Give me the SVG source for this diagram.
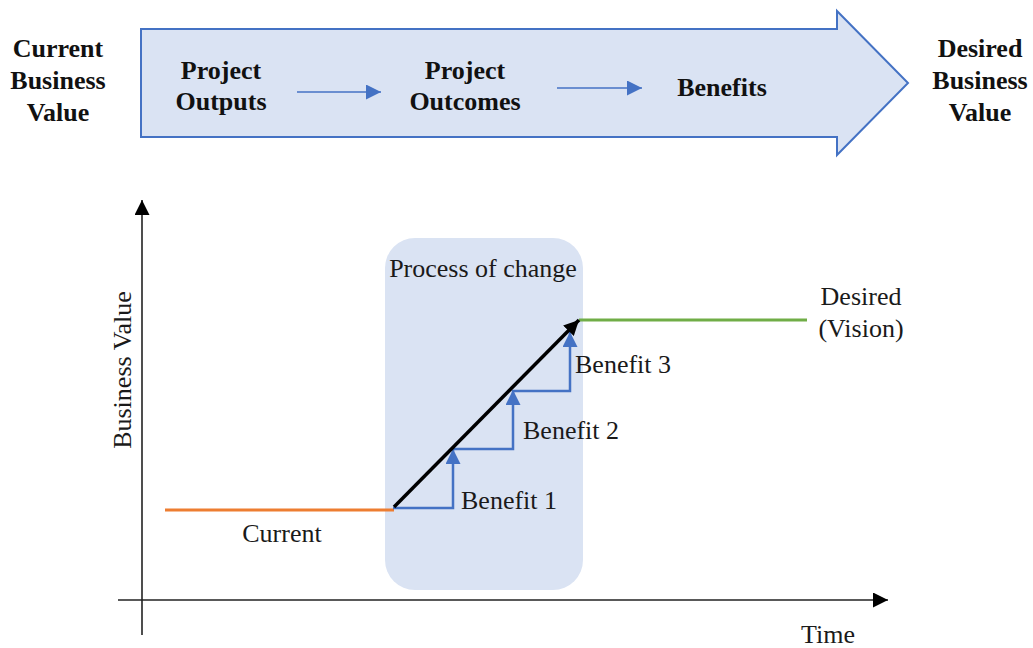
<svg xmlns="http://www.w3.org/2000/svg" width="1033" height="648" viewBox="0 0 1033 648">
  <style>
    .bold { font-family: "Liberation Serif", "Times New Roman", serif; font-weight: bold; font-size: 26px; fill: #111; text-anchor: middle; }
    .lbl { font-family: "Liberation Serif", "Times New Roman", serif; font-size: 26px; fill: #1a1a1a; }
    .mid { text-anchor: middle; }
    .flow { stroke: #4472C4; stroke-width: 1.6; fill: none; }
    .step { stroke: #4472C4; stroke-width: 2.5; fill: none; }
  </style>
  <defs>
    <marker id="blueHead" viewBox="0 0 10 10" refX="10" refY="5" markerWidth="15" markerHeight="15" markerUnits="userSpaceOnUse" orient="auto">
      <path d="M0,0 L10,5 L0,10 Z" fill="#4472C4"/>
    </marker>
    <marker id="axisHead" viewBox="0 0 10 10" refX="10" refY="5" markerWidth="15" markerHeight="15" markerUnits="userSpaceOnUse" orient="auto">
      <path d="M0,0 L10,5 L0,10 Z" fill="#000"/>
    </marker>
  </defs>

  <rect width="1033" height="648" fill="#fff"/>

  <!-- value chain banner -->
  <g id="banner">
    <path d="M141,29 H837 V11 L908,83 L837,155 V137 H141 Z" fill="#DAE3F3" stroke="#4472C4" stroke-width="2"/>
  </g>
  <g id="current-value">
    <text class="bold" x="58" y="57">Current</text>
    <text class="bold" x="58" y="89">Business</text>
    <text class="bold" x="58" y="121">Value</text>
  </g>
  <g id="project-outputs">
    <text class="bold" x="221" y="79">Project</text>
    <text class="bold" x="221" y="110">Outputs</text>
  </g>
  <g id="project-outcomes">
    <text class="bold" x="465" y="79">Project</text>
    <text class="bold" x="465" y="110">Outcomes</text>
  </g>
  <g id="benefits">
    <text class="bold" x="722" y="96">Benefits</text>
  </g>
  <g id="desired-value">
    <text class="bold" x="980" y="57">Desired</text>
    <text class="bold" x="980" y="89">Business</text>
    <text class="bold" x="980" y="121">Value</text>
  </g>

  <!-- process of change panel -->
  <g id="process">
    <rect x="385" y="238" width="198" height="352" rx="30" ry="30" fill="#DAE3F3"/>
    <text class="lbl mid" x="483" y="277">Process of change</text>
  </g>

  <!-- chart labels -->
  <g id="axis-labels">
    <text class="lbl mid" transform="translate(131,370) rotate(-90)">Business Value</text>
    <text class="lbl mid" x="828" y="643">Time</text>
  </g>
  <g id="current-label">
    <text class="lbl mid" x="282" y="542">Current</text>
  </g>
  <g id="desired-label">
    <text class="lbl mid" x="861" y="305">Desired</text>
    <text class="lbl mid" x="861" y="337">(Vision)</text>
  </g>
  <g id="benefit-labels">
    <text class="lbl" x="461" y="509">Benefit 1</text>
    <text class="lbl" x="523" y="439">Benefit 2</text>
    <text class="lbl" x="575" y="373">Benefit 3</text>
  </g>

  <!-- connectors -->
  <g id="connectors">
    <line class="flow" x1="297" y1="92" x2="381" y2="92" marker-end="url(#blueHead)"/>
    <line class="flow" x1="557" y1="88" x2="642" y2="88" marker-end="url(#blueHead)"/>

    <line x1="142" y1="635" x2="142" y2="200" stroke="#222" stroke-width="1.6" marker-end="url(#axisHead)"/>
    <line x1="118" y1="600" x2="888" y2="600" stroke="#222" stroke-width="1.6" marker-end="url(#axisHead)"/>

    <line x1="165" y1="510" x2="394" y2="510" stroke="#ED7D31" stroke-width="3"/>
    <line x1="579" y1="320" x2="807" y2="320" stroke="#70AD47" stroke-width="3"/>

    <path class="step" d="M393,508 H453 V449" marker-end="url(#blueHead)"/>
    <path class="step" d="M453,449 H513 V390" marker-end="url(#blueHead)"/>
    <path class="step" d="M513,391 H570 V332" marker-end="url(#blueHead)"/>

    <line x1="394" y1="507" x2="579" y2="320" stroke="#000" stroke-width="3.5" marker-end="url(#axisHead)"/>
  </g>
</svg>
